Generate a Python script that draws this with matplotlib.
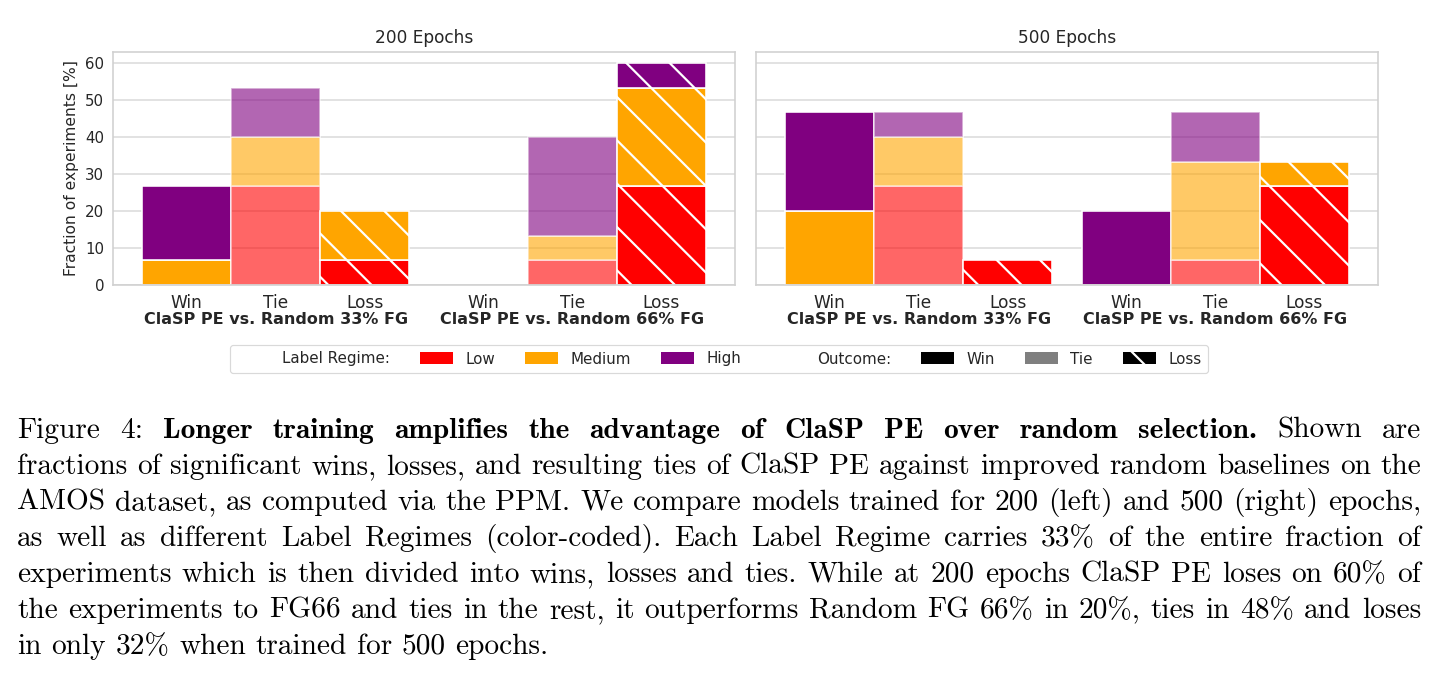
import matplotlib
matplotlib.use('Agg')
import matplotlib.pyplot as plt
import matplotlib.transforms as mtransforms
from matplotlib.patches import Patch

# ── render setup: small figure at high dpi (gives the coarse hatch) ──
DPI = 260
W, H = 1435, 677


def pt(px):
    """pixel size -> points at the figure dpi"""
    return px * 72.0 / DPI


plt.rcParams['hatch.linewidth'] = pt(2.2)
plt.rcParams['font.family'] = ['DejaVu Sans']

# ── data (percent of experiments), order = Win, Tie, Loss ─────────
OUTCOMES = ['Win', 'Tie', 'Loss']
REGIMES = ['Low', 'Medium', 'High']
COLORS = {'Low': 'red', 'Medium': 'orange', 'High': 'purple'}
GROUPS = ['ClaSP PE vs. Random 33% FG', 'ClaSP PE vs. Random 66% FG']
PANELS = ['200 Epochs', '500 Epochs']

E200_FG33_LOW = [0.0, 26.67, 6.67]
E200_FG33_MED = [6.67, 13.33, 13.33]
E200_FG33_HIGH = [20.0, 13.33, 0.0]
E200_FG66_LOW = [0.0, 6.67, 26.67]
E200_FG66_MED = [0.0, 6.67, 26.67]
E200_FG66_HIGH = [0.0, 26.67, 6.67]

E500_FG33_LOW = [0.0, 26.67, 6.67]
E500_FG33_MED = [20.0, 13.33, 0.0]
E500_FG33_HIGH = [26.67, 6.67, 0.0]
E500_FG66_LOW = [0.0, 6.67, 26.67]
E500_FG66_MED = [0.0, 26.67, 6.67]
E500_FG66_HIGH = [20.0, 13.33, 0.0]

panel_data = [
    [(E200_FG33_LOW, E200_FG33_MED, E200_FG33_HIGH),
     (E200_FG66_LOW, E200_FG66_MED, E200_FG66_HIGH)],
    [(E500_FG33_LOW, E500_FG33_MED, E500_FG33_HIGH),
     (E500_FG66_LOW, E500_FG66_MED, E500_FG66_HIGH)],
]

HATCH = '\\\\'
OUT_STYLE = {'Win': dict(alpha=1.0, hatch=None),
             'Tie': dict(alpha=0.6, hatch=None),
             'Loss': dict(alpha=1.0, hatch=HATCH)}
GROUP_STEP = 3.33

fig = plt.figure(figsize=(W / DPI, H / DPI), dpi=DPI)
ax_l = fig.add_axes([113 / W, 1 - 285 / H, 622 / W, 233 / H])
ax_r = fig.add_axes([756 / W, 1 - 285 / H, 622 / W, 233 / H], sharey=ax_l)

for ax, title, groups in zip([ax_l, ax_r], PANELS, panel_data):
    ticks, tlabels = [], []
    for g, (low, med, high) in enumerate(groups):
        for o, outc in enumerate(OUTCOMES):
            x = g * GROUP_STEP + o
            ticks.append(x)
            tlabels.append(outc)
            bottom = 0.0
            for reg, vals in zip(REGIMES, (low, med, high)):
                v = vals[o]
                if v > 0:
                    ax.bar(x, v, width=1.0, bottom=bottom, color=COLORS[reg],
                           edgecolor='white', linewidth=pt(1.6),
                           alpha=OUT_STYLE[outc]['alpha'],
                           hatch=OUT_STYLE[outc]['hatch'], zorder=2)
                bottom += v
        ax.text(g * GROUP_STEP + 1, -0.15, GROUPS[g], transform=ax.get_xaxis_transform(),
                ha='center', va='center', fontsize=pt(16), fontweight='bold', color='#262626')
    ax.set_xticks(ticks)
    ax.set_xticklabels(tlabels)
    ax.set_xlim(-0.83, 2 * 1 + GROUP_STEP + 0.83)
    ax.set_ylim(0, 63)
    ax.set_yticks(range(0, 61, 10))
    ax.grid(axis='y', color='#DCDCDC', linewidth=pt(1.6), zorder=0)
    ax.grid(axis='x', visible=False)
    ax.set_axisbelow(True)
    for s in ax.spines.values():
        s.set_color('#D0D0D0')
        s.set_linewidth(pt(1.6))
    ax.tick_params(axis='both', length=0, colors='#262626')
    ax.tick_params(axis='x', labelsize=pt(17), pad=pt(9))
    ax.tick_params(axis='y', labelsize=pt(15), pad=pt(9))
    ax.set_title(title, fontsize=pt(17), color='#262626', pad=pt(9))

ax_l.set_ylabel('Fraction of experiments [%]', fontsize=pt(15.5), color='#262626', labelpad=pt(6))
ax_r.tick_params(axis='y', labelleft=False)

# ── legend ────────────────────────────────────────────────────────
blank = Patch(facecolor='none', edgecolor='none')
handles = [blank,
           Patch(facecolor='red'), Patch(facecolor='orange'), Patch(facecolor='purple'),
           blank,
           Patch(facecolor='black'), Patch(facecolor='black', alpha=0.5),
           Patch(facecolor='black', edgecolor='white', hatch=HATCH, linewidth=0)]
labels = ['Label Regime:', 'Low', 'Medium', 'High', 'Outcome:', 'Win', 'Tie', 'Loss']
leg = fig.legend(handles, labels, loc='center', bbox_to_anchor=(719 / W, 1 - 359 / H),
                 ncol=8, fontsize=pt(15.2), frameon=True, handlelength=2.17,
                 handleheight=0.8, handletextpad=0.8, columnspacing=2.0,
                 borderpad=0.45, labelcolor='#262626')
leg.get_frame().set_edgecolor('#D0D0D0')
leg.get_frame().set_linewidth(pt(1.2))

# ── caption (justified, Computer Modern) ─────────────────────────
CAPTION = [
    [("Figure 4:", False),
     ("Longer training amplifies the advantage of ClaSP PE over random selection.", True),
     ("Shown are", False)],
    [("fractions of significant wins, losses, and resulting ties of ClaSP PE against improved random baselines on the", False)],
    [("AMOS dataset, as computed via the PPM. We compare models trained for 200 (left) and 500 (right) epochs,", False)],
    [("as well as different Label Regimes (color-coded). Each Label Regime carries 33% of the entire fraction of", False)],
    [("experiments which is then divided into wins, losses and ties. While at 200 epochs ClaSP PE loses on 60% of", False)],
    [("the experiments to FG66 and ties in the rest, it outperforms Random FG 66% in 20%, ties in 48% and loses", False)],
    [("in only 32% when trained for 500 epochs.", False)],
]
CAP_LEFT, CAP_RIGHT = 17, 1421
CAP_TOP, CAP_STEP = 438, 36
CAP_SIZE = pt(29.4)

renderer = fig.canvas.get_renderer()
ident = mtransforms.IdentityTransform()
for i, line in enumerate(CAPTION):
    words = []
    for seg, bold in line:
        for w in seg.split():
            words.append((w, bold))
    y = H - (CAP_TOP + i * CAP_STEP)
    objs, widths = [], []
    for w, bold in words:
        t = fig.text(0, y, w, transform=ident, fontsize=CAP_SIZE,
                     family='cmb10' if bold else 'cmr10', va='baseline', ha='left',
                     color='black')
        objs.append(t)
        widths.append(t.get_window_extent(renderer=renderer).width)
    total = sum(widths)
    if i < len(CAPTION) - 1:
        gap = (CAP_RIGHT - CAP_LEFT - total) / (len(words) - 1)
    else:
        gap = CAP_SIZE * DPI / 72 * 0.333
    x = CAP_LEFT
    for t, w in zip(objs, widths):
        t.set_position((x, y))
        x += w + gap

fig.savefig('out.png', dpi=DPI, facecolor='white')
